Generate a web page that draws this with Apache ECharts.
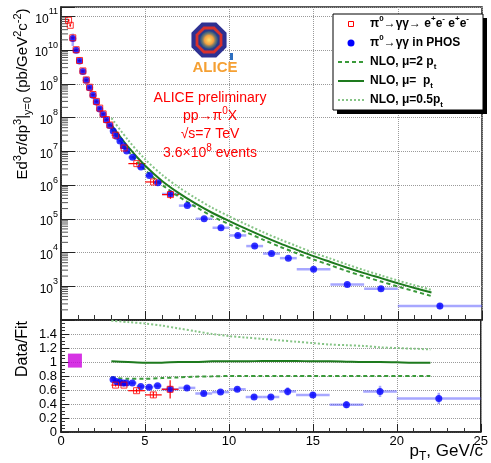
<!DOCTYPE html>
<html>
<head>
<meta charset="utf-8">
<script src="https://cdn.jsdelivr.net/npm/echarts@6.0.0/dist/echarts.min.js"></script>
<style>
  html, body { margin: 0; padding: 0; background: #fff; }
  #main { width: 491px; height: 463px; }
</style>
</head>
<body>
<div id="main"></div>
<script>
// ---- data ----
// PHOS (pi0 -> gamma gamma in PHOS)
const phosPt = [0.7, 0.9, 1.1, 1.3, 1.5, 1.7, 1.9, 2.1, 2.3, 2.5, 2.7, 2.9, 3.1, 3.3, 3.5, 3.7, 3.9,
  4.25, 4.75, 5.25, 5.75, 6.5, 7.5, 8.5, 9.5, 10.5, 11.5, 12.5, 13.5, 15, 17, 19, 22.5];
const phosPtErr = [0.1, 0.1, 0.1, 0.1, 0.1, 0.1, 0.1, 0.1, 0.1, 0.1, 0.1, 0.1, 0.1, 0.1, 0.1, 0.1, 0.1,
  0.25, 0.25, 0.25, 0.25, 0.5, 0.5, 0.5, 0.5, 0.5, 0.5, 0.5, 0.5, 1, 1, 1, 2.5];
const phosYield = [2.2e10, 9.8e9, 4.7e9, 2.3e9, 1.26e9, 7.6e8, 4.6e8, 2.9e8, 1.8e8, 1.23e8, 8.5e7, 5.8e7,
  4.0e7, 2.8e7, 2.0e7, 1.45e7, 1.02e7, 6.6e6, 3.4e6, 1.9e6, 1.17e6, 5.4e5, 2.45e5, 1.0e5, 5.4e4, 3.2e4,
  1.55e4, 9.3e3, 6.8e3, 3.2e3, 1.12e3, 8.5e2, 2.6e2];
const phosYieldErr = [0.4, 0.08, 0.08, 0.08, 0.08, 0.08, 0.08, 0.08, 0.08, 0.08, 0.08, 0.08, 0.08, 0.08,
  0.08, 0.08, 0.08, 0.08, 0.08, 0.08, 0.08, 0.1, 0.1, 0.1, 0.1, 0.1, 0.1, 0.1, 0.12, 0.12, 0.14, 0.16, 0.2];

// conversions (pi0 -> gamma gamma -> e+e- e+e-)
const convPt = [0.45, 0.55, 0.7, 0.9, 1.1, 1.3, 1.5, 1.7, 1.9, 2.1, 2.3, 2.5, 2.7, 2.9, 3.25, 3.75, 4.5, 5.5, 6.5];
const convPtErr = [0.05, 0.05, 0.1, 0.1, 0.1, 0.1, 0.1, 0.1, 0.1, 0.1, 0.1, 0.1, 0.1, 0.1, 0.25, 0.25, 0.5, 0.5, 0.5];
const convYield = [7.6e10, 5.4e10, 2.3e10, 1.02e10, 4.9e9, 2.4e9, 1.3e9, 7.9e8, 4.8e8, 3.0e8, 1.9e8, 1.28e8,
  8.7e7, 6.0e7, 3.0e7, 1.25e7, 4.3e6, 1.23e6, 5.2e5];
const convYieldErr = [0.1, 0.1, 0.08, 0.08, 0.08, 0.08, 0.08, 0.08, 0.08, 0.08, 0.08, 0.08, 0.08, 0.08,
  0.1, 0.1, 0.12, 0.15, 0.25];

// NLO curves
const nloPt = [3, 4, 5, 6, 7, 8, 9, 10, 11, 12, 13, 14, 15, 16, 17, 18, 19, 20, 21, 22];
const nloMu2 = [4.7e7, 1.0e7, 2.8e6, 1.02e6, 4.5e5, 2.25e5, 1.17e5, 6.8e4, 4.0e4, 2.4e4, 1.48e4, 9.5e3,
  6.2e3, 4.2e3, 2.8e3, 1.95e3, 1.38e3, 9.8e2, 7.1e2, 5.1e2];
const nloMu1 = [6.0e7, 1.32e7, 3.7e6, 1.32e6, 5.75e5, 2.8e5, 1.48e5, 8.5e4, 5.0e4, 3.0e4, 1.86e4, 1.2e4,
  7.8e3, 5.25e3, 3.55e3, 2.45e3, 1.74e3, 1.23e3, 8.9e2, 6.5e2];
const nloMu05 = [9.55e7, 2.09e7, 5.75e6, 2.0e6, 8.5e5, 4.07e5, 2.09e5, 1.17e5, 6.8e4, 4.0e4, 2.45e4, 1.55e4,
  9.8e3, 6.6e3, 4.4e3, 3.0e3, 2.1e3, 1.48e3, 1.07e3, 7.8e2];

// Data/Fit panel
const ratioPhosPt = [3.1, 3.3, 3.5, 3.7, 3.9, 4.25, 4.75, 5.25, 5.75, 6.5, 7.5, 8.5, 9.5, 10.5, 11.5, 12.5, 13.5, 15, 17, 19, 22.5];
const ratioPhosPtErr = [0.1, 0.1, 0.1, 0.1, 0.1, 0.25, 0.25, 0.25, 0.25, 0.5, 0.5, 0.5, 0.5, 0.5, 0.5, 0.5, 0.5, 1, 1, 1, 2.5];
const ratioPhos = [0.75, 0.72, 0.71, 0.70, 0.70, 0.70, 0.65, 0.64, 0.66, 0.61, 0.63, 0.55, 0.57, 0.61, 0.50, 0.50, 0.58, 0.53, 0.39, 0.58, 0.48];
const ratioPhosErr = [0.02, 0.02, 0.02, 0.02, 0.02, 0.02, 0.02, 0.02, 0.02, 0.03, 0.03, 0.03, 0.03, 0.03, 0.03, 0.03, 0.06, 0.04, 0.05, 0.08, 0.08];
const ratioConvPt = [3.25, 3.75, 4.5, 5.5, 6.5];
const ratioConvPtErr = [0.25, 0.25, 0.5, 0.5, 0.5];
const ratioConv = [0.67, 0.67, 0.59, 0.53, 0.61];
const ratioConvErr = [0.02, 0.02, 0.03, 0.04, 0.13];
const ratioNloMu2 = [0.78, 0.76, 0.76, 0.77, 0.78, 0.79, 0.795, 0.80, 0.80, 0.80, 0.80, 0.80, 0.80, 0.80, 0.80, 0.80, 0.80, 0.80, 0.80, 0.80];
const ratioNloMu1 = [1.01, 1.0, 0.99, 0.99, 1.0, 1.0, 1.01, 1.01, 1.01, 1.015, 1.015, 1.015, 1.01, 1.01, 1.005, 1.0, 1.0, 0.995, 0.99, 0.99];
const ratioNloMu05 = [1.59, 1.57, 1.55, 1.52, 1.48, 1.44, 1.40, 1.37, 1.35, 1.33, 1.31, 1.29, 1.27, 1.25, 1.24, 1.23, 1.21, 1.20, 1.19, 1.18];
const normBox = [[0.83, 1.02]];

const yDecades = [3, 4, 5, 6, 7, 8, 9, 10, 11];
const minorMult = [2, 3, 4, 5, 6, 7, 8, 9];

// ---- helpers ----
const FONT = "'Liberation Sans', Arial, Helvetica, sans-serif";
const BLUE = '#0000ff';
const RED = '#ff0000';
const GREEN_D = '#1e7a1e';
const GREEN_M = '#3a9a3a';
const GREEN_L = '#86c486';

function errRows(xs, xe, ys, ye, rel) {
  return xs.map(function (x, i) {
    const lo = rel ? ys[i] * (1 - ye[i]) : ys[i] - ye[i];
    const hi = rel ? ys[i] * (1 + ye[i]) : ys[i] + ye[i];
    return [x, ys[i], x - xe[i], x + xe[i], lo, hi];
  });
}

function errorBars(gi, rows, color, width) {
  return {
    type: 'custom', xAxisIndex: gi, yAxisIndex: gi, silent: true, z: 2,
    data: rows,
    encode: { x: [0, 2, 3], y: [1, 4, 5] },
    renderItem: function (params, api) {
      const c = api.coord([api.value(0), api.value(1)]);
      const xl = api.coord([api.value(2), api.value(1)]);
      const xh = api.coord([api.value(3), api.value(1)]);
      const yl = api.coord([api.value(0), api.value(4)]);
      const yh = api.coord([api.value(0), api.value(5)]);
      return {
        type: 'group', children: [
          { type: 'line', shape: { x1: xl[0], y1: c[1], x2: xh[0], y2: c[1] }, style: { stroke: color, lineWidth: width } },
          { type: 'line', shape: { x1: c[0], y1: yl[1], x2: c[0], y2: yh[1] }, style: { stroke: color, lineWidth: width } }
        ]
      };
    }
  };
}

function pairs(xs, ys) { return xs.map(function (x, i) { return [x, ys[i]]; }); }

function nloLine(gi, ys, color, type, width) {
  return {
    type: 'line', xAxisIndex: gi, yAxisIndex: gi, data: pairs(nloPt, ys),
    showSymbol: false, smooth: 0.3, silent: true, z: 3,
    lineStyle: { color: color, type: type, width: width }
  };
}

function octagon(cx, cy, r) {
  const pts = [];
  for (let k = 0; k < 8; k++) {
    const a = Math.PI / 8 + k * Math.PI / 4;
    pts.push([cx + r * Math.cos(a), cy + r * Math.sin(a)]);
  }
  return pts;
}

const minorVals = [];
for (let d = 2; d <= 10; d++) {
  minorMult.forEach(function (m) { minorVals.push([0, m * Math.pow(10, d)]); });
}

const supRich = {
  n: { fontFamily: FONT, fontSize: 12, lineHeight: 18, verticalAlign: 'bottom', color: '#000' },
  e: { fontFamily: FONT, fontSize: 9, lineHeight: 9, verticalAlign: 'top', color: '#000' }
};

function richSet(size, color, weight) {
  return {
    n: { fontFamily: FONT, fontSize: size, fontWeight: weight, lineHeight: size + 6, verticalAlign: 'middle', fill: color },
    sup: { fontFamily: FONT, fontSize: Math.round(size * 0.7), fontWeight: weight, lineHeight: Math.round(size * 0.7), verticalAlign: 'top', fill: color },
    sub: { fontFamily: FONT, fontSize: Math.round(size * 0.7), fontWeight: weight, lineHeight: Math.round(size * 0.7), verticalAlign: 'bottom', fill: color }
  };
}

function gText(x, y, text, size, color, weight, align, rotation) {
  return {
    type: 'text', x: x, y: y, rotation: rotation || 0, z: 102, silent: true,
    style: {
      text: text, fill: color, fontFamily: FONT, fontSize: size, fontWeight: weight,
      align: align, verticalAlign: 'middle', rich: richSet(size, color, weight)
    }
  };
}

const axisLineStyle = { color: '#222', width: 1.5 };
const gridLine = { show: true, lineStyle: { color: '#9a9a9a', type: 'dotted', width: 1 } };

// ---- chart ----
const chart = echarts.init(document.getElementById('main'));

const legendX = 333, legendY = 14;
const rowY = [24, 43, 62, 81, 100];

const option = {
  animation: false,
  backgroundColor: '#fff',
  grid: [
    { left: 61, top: 7, width: 421, height: 313, show: true, borderColor: '#222', borderWidth: 1.5 },
    { left: 61, top: 320, width: 421, height: 112, show: true, borderColor: '#222', borderWidth: 1.5 }
  ],
  xAxis: [
    {
      gridIndex: 0, type: 'value', min: 0, max: 25, interval: 5,
      axisLine: { lineStyle: axisLineStyle },
      axisTick: { inside: true, length: 9, lineStyle: { color: '#222' } },
      minorTick: { show: true, splitNumber: 5, length: 5, lineStyle: { color: '#333' } },
      axisLabel: { show: false },
      splitLine: gridLine
    },
    {
      gridIndex: 1, type: 'value', min: 0, max: 25, interval: 5,
      axisLine: { lineStyle: axisLineStyle },
      axisTick: { inside: true, length: 8, lineStyle: { color: '#222' } },
      minorTick: { show: true, splitNumber: 5, length: 4, lineStyle: { color: '#333' } },
      axisLabel: { color: '#000', fontFamily: FONT, fontSize: 13, margin: 3 },
      splitLine: gridLine
    }
  ],
  yAxis: [
    {
      gridIndex: 0, type: 'log', logBase: 10, min: 100, max: 1.88e11,
      axisLine: { lineStyle: axisLineStyle },
      axisTick: { inside: true, length: 14, lineStyle: { color: '#222' } },
      axisLabel: {
        margin: 3, rich: supRich,
        formatter: function (v) {
          const l = Math.log10(v);
          const e = Math.round(l);
          if (Math.abs(l - e) > 1e-6 || yDecades.indexOf(e) < 0) return '';
          return '{n|10}{e|' + e + '}';
        }
      },
      splitLine: gridLine
    },
    {
      gridIndex: 1, type: 'value', min: 0, max: 1.6, interval: 0.2,
      axisLine: { lineStyle: axisLineStyle },
      axisTick: { inside: true, length: 8, lineStyle: { color: '#222' } },
      minorTick: { show: true, splitNumber: 4, length: 4, lineStyle: { color: '#333' } },
      axisLabel: {
        color: '#000', fontFamily: FONT, fontSize: 13, margin: 4,
        formatter: function (v) { return v > 1.55 ? '' : String(+v.toFixed(1)); }
      },
      splitLine: gridLine
    }
  ],
  series: [
    // log minor ticks on the top y axis
    {
      type: 'custom', xAxisIndex: 0, yAxisIndex: 0, silent: true, clip: false, z: 1,
      data: minorVals,
      renderItem: function (params, api) {
        const c = api.coord([api.value(0), api.value(1)]);
        return { type: 'line', shape: { x1: c[0], y1: c[1], x2: c[0] + 7, y2: c[1] }, style: { stroke: '#555', lineWidth: 1 } };
      }
    },
    errorBars(0, errRows(phosPt, phosPtErr, phosYield, phosYieldErr, true), 'rgba(80,80,255,0.5)', 2.5),
    errorBars(0, errRows(convPt, convPtErr, convYield, convYieldErr, true), RED, 1.2),
    nloLine(0, nloMu05, GREEN_L, [2, 2], 2),
    nloLine(0, nloMu1, GREEN_D, 'solid', 2),
    nloLine(0, nloMu2, GREEN_M, [4, 3], 2),
    {
      type: 'scatter', xAxisIndex: 0, yAxisIndex: 0, data: pairs(phosPt, phosYield),
      symbol: 'circle', symbolSize: 7, itemStyle: { color: BLUE }, z: 4, silent: true
    },
    {
      type: 'scatter', xAxisIndex: 0, yAxisIndex: 0, data: pairs(convPt, convYield),
      symbol: 'rect', symbolSize: 6, itemStyle: { color: 'rgba(0,0,0,0)', borderColor: RED, borderWidth: 1 }, z: 5, silent: true
    },
    // ratio panel
    errorBars(1, errRows(ratioPhosPt, ratioPhosPtErr, ratioPhos, ratioPhosErr, false), 'rgba(80,80,255,0.5)', 2.5),
    errorBars(1, errRows(ratioConvPt, ratioConvPtErr, ratioConv, ratioConvErr, false), RED, 1.2),
    nloLine(1, ratioNloMu05, GREEN_L, [2, 2], 2),
    nloLine(1, ratioNloMu1, GREEN_D, 'solid', 2),
    nloLine(1, ratioNloMu2, GREEN_M, [4, 3], 2),
    {
      type: 'scatter', xAxisIndex: 1, yAxisIndex: 1, data: pairs(ratioPhosPt, ratioPhos),
      symbol: 'circle', symbolSize: 7, itemStyle: { color: BLUE }, z: 4, silent: true
    },
    {
      type: 'scatter', xAxisIndex: 1, yAxisIndex: 1, data: pairs(ratioConvPt, ratioConv),
      symbol: 'rect', symbolSize: 6, itemStyle: { color: 'rgba(0,0,0,0)', borderColor: RED, borderWidth: 1 }, z: 5, silent: true
    },
    {
      type: 'scatter', xAxisIndex: 1, yAxisIndex: 1, data: normBox,
      symbol: 'rect', symbolSize: 14, itemStyle: { color: '#cc00dd' }, z: 5, silent: true
    }
  ],
  graphic: [
    // legend box
    { type: 'rect', z: 100, silent: true, shape: { x: legendX + 4, y: legendY + 4, width: 150, height: 96 }, style: { fill: '#000' } },
    { type: 'rect', z: 101, silent: true, shape: { x: legendX, y: legendY, width: 150, height: 96 }, style: { fill: '#fff', stroke: '#000', lineWidth: 1 } },
    { type: 'rect', z: 102, silent: true, shape: { x: 348.5, y: rowY[0] - 2.5, width: 5, height: 5 }, style: { fill: '#fff', stroke: RED, lineWidth: 1 } },
    { type: 'circle', z: 102, silent: true, shape: { cx: 351, cy: rowY[1], r: 3.5 }, style: { fill: BLUE } },
    { type: 'line', z: 102, silent: true, shape: { x1: 338, y1: rowY[2], x2: 364, y2: rowY[2] }, style: { stroke: GREEN_M, lineWidth: 2, lineDash: [4, 3] } },
    { type: 'line', z: 102, silent: true, shape: { x1: 338, y1: rowY[3], x2: 364, y2: rowY[3] }, style: { stroke: GREEN_D, lineWidth: 2 } },
    { type: 'line', z: 102, silent: true, shape: { x1: 338, y1: rowY[4], x2: 364, y2: rowY[4] }, style: { stroke: GREEN_L, lineWidth: 2, lineDash: [2, 2] } },
    gText(370, rowY[0], '{n|π}{sup|0}{n|→γγ→ e}{sup|+}{n|e}{sup|-}{n| e}{sup|+}{n|e}{sup|-}', 12, '#000', 'bold', 'left'),
    gText(370, rowY[1], '{n|π}{sup|0}{n|→γγ in PHOS}', 12, '#000', 'bold', 'left'),
    gText(370, rowY[2], '{n|NLO, μ=2 p}{sub|t}', 12, '#000', 'bold', 'left'),
    gText(370, rowY[3], '{n|NLO, μ=  p}{sub|t}', 12, '#000', 'bold', 'left'),
    gText(370, rowY[4], '{n|NLO, μ=0.5p}{sub|t}', 12, '#000', 'bold', 'left'),

    // ALICE logo
    { type: 'polygon', z: 100, silent: true, shape: { points: octagon(209, 40, 19) }, style: { fill: '#2e3192' } },
    { type: 'polygon', z: 100, silent: true, shape: { points: octagon(209, 40, 14.5) }, style: { fill: '#d8322c' } },
    { type: 'polygon', z: 100, silent: true, shape: { points: octagon(209, 40, 11.5) }, style: { fill: '#2a3a8c' } },
    {
      type: 'circle', z: 101, silent: true, shape: { cx: 209, cy: 40, r: 9 },
      style: { fill: { type: 'radial', x: 0.5, y: 0.5, r: 0.5, colorStops: [{ offset: 0, color: '#ffe26a' }, { offset: 0.5, color: '#f4a040' }, { offset: 1, color: 'rgba(60,140,120,0.3)' }] } }
    },
    { type: 'rect', z: 100, silent: true, shape: { x: 230, y: 53, width: 3, height: 7 }, style: { fill: '#2e6fc0' } },
    gText(215, 68, 'ALICE', 15, '#f5a033', 'bold', 'center'),

    // red annotation
    gText(210, 98, '{n|ALICE preliminary}', 14, RED, 'normal', 'center'),
    gText(210, 116, '{n|pp→π}{sup|0}{n|X}', 14, RED, 'normal', 'center'),
    gText(210, 134, '{n|√s=7 TeV}', 14, RED, 'normal', 'center'),
    gText(210, 153, '{n|3.6×10}{sup|8}{n| events}', 14, RED, 'normal', 'center'),

    // axis titles
    gText(23, 94, '{n|Ed}{sup|3}{n|σ/dp}{sup|3}{n||}{sub|y=0}{n| (pb/GeV}{sup|2}{n|c}{sup|-2}{n|)}', 15, '#000', 'normal', 'center', Math.PI / 2),
    gText(23, 349, '{n|Data/Fit}', 16, '#000', 'normal', 'center', Math.PI / 2),
    gText(483, 451, '{n|p}{sub|T}{n|, GeV/c}', 17, '#000', 'normal', 'right')
  ]
};

chart.setOption(option);
</script>
</body>
</html>
